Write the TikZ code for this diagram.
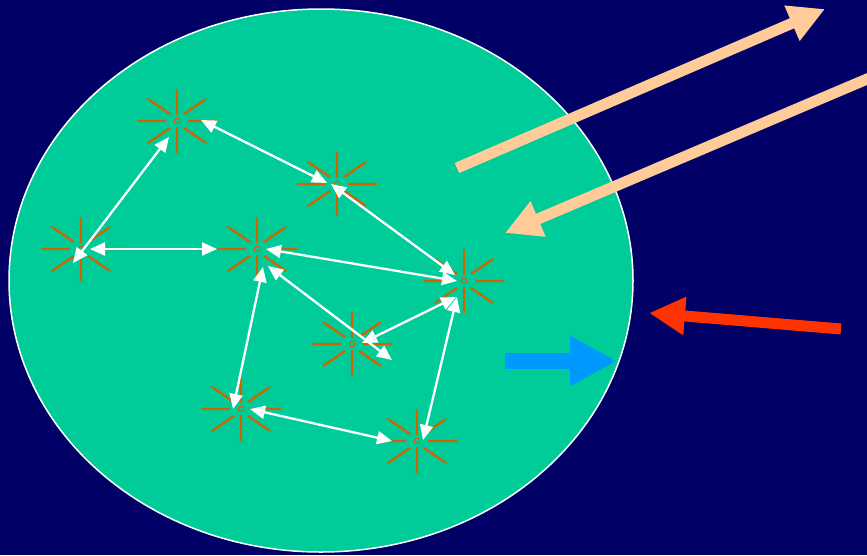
\documentclass[tikz,border=0pt]{standalone}
\usetikzlibrary{arrows.meta,calc}
\definecolor{bgnavy}{RGB}{0,0,102}
\definecolor{cellgreen}{RGB}{0,204,153}
\definecolor{rayorange}{RGB}{204,102,0}
\definecolor{peach}{RGB}{255,204,153}
\definecolor{redarrow}{RGB}{255,51,0}
\definecolor{bluearrow}{RGB}{0,153,255}
\tikzset{
  rays/.style={draw=rayorange, line width=2.3pt},
  burst/.pic={
    \draw[rays] (11,0)--(40,0) (-11,0)--(-40,0) (0,6)--(0,32) (0,-6)--(0,-32)
      (7,7)--(29,22) (-7,7)--(-29,22) (7,-7)--(29,-22) (-7,-7)--(-29,-22);
    \draw[draw=rayorange, line width=1.1pt] (0,0) circle (2.7pt);
  },
  link/.style={draw=white, line width=2.3pt, {Triangle[length=15pt,width=13pt]}-{Triangle[length=15pt,width=13pt]}},
  bigarrow/.style={line width=11pt, -{Triangle[length=36pt,width=36pt]}},
}
\begin{document}
\begin{tikzpicture}[x=1pt,y=-1pt]
\useasboundingbox (0,0) rectangle (867,555);
\fill[bgnavy] (0,0) rectangle (867,555);
\clip (0,0) rectangle (867,555);
\draw[white, line width=1.5pt, fill=cellgreen] (321,280.5) ellipse [x radius=312, y radius=271.5];

\coordinate (s1) at (177,121);
\coordinate (s2) at (81,249);
\coordinate (s3) at (337,184);
\coordinate (s4) at (257,249);
\coordinate (s5) at (464,281);
\coordinate (s6) at (352,344);
\coordinate (s7) at (241,409);
\coordinate (s8) at (417,441);
\foreach \s in {s1,s2,s3,s4,s5,s6,s7,s8} \pic at (\s) {burst};

\draw[link] ($(s2)+(-8,14)$) -- ($(s1)+(-8,16)$);
\draw[link] ($(s2)+(9,0)$) -- ($(s4)+(-40,0)$);
\draw[link] ($(s1)+(24,-1)$) -- ($(s3)+(-10,-1)$);
\draw[link] ($(s3)+(-6,0)$) -- ($(s5)+(-9,-6)$);
\draw[link] ($(s4)+(9,0)$) -- ($(s5)+(-7,0)$);
\draw[link] ($(s4)+(11,17)$) -- ($(s6)+(40,16)$);
\draw[link] ($(s5)+(-8,16)$) -- ($(s6)+(10,-1)$);
\draw[link] ($(s7)+(-8,0)$) -- ($(s4)+(6,18)$);
\draw[link] ($(s7)+(9,0)$) -- ($(s8)+(-25,0)$);
\draw[link] ($(s8)+(6,-1)$) -- ($(s5)+(-7,16)$);

\coordinate (outA) at (457,168);
\coordinate (outB) at (825,9);
\coordinate (inA) at (900,65);
\coordinate (inB) at (505,233);
\coordinate (redA) at (841,329);
\coordinate (redB) at (649,313);
\coordinate (blueA) at (505,361);
\coordinate (blueB) at (617,361);

\draw[bigarrow, draw=peach, fill=peach] (outA) -- (outB);
\draw[bigarrow, draw=peach, fill=peach] (inA) -- (inB);
\draw[bigarrow, draw=redarrow, fill=redarrow] (redA) -- (redB);
\draw[draw=bluearrow, fill=bluearrow, line width=15.7pt, -{Triangle[length=47pt,width=47pt]}] (blueA) -- (blueB);
\end{tikzpicture}
\end{document}
